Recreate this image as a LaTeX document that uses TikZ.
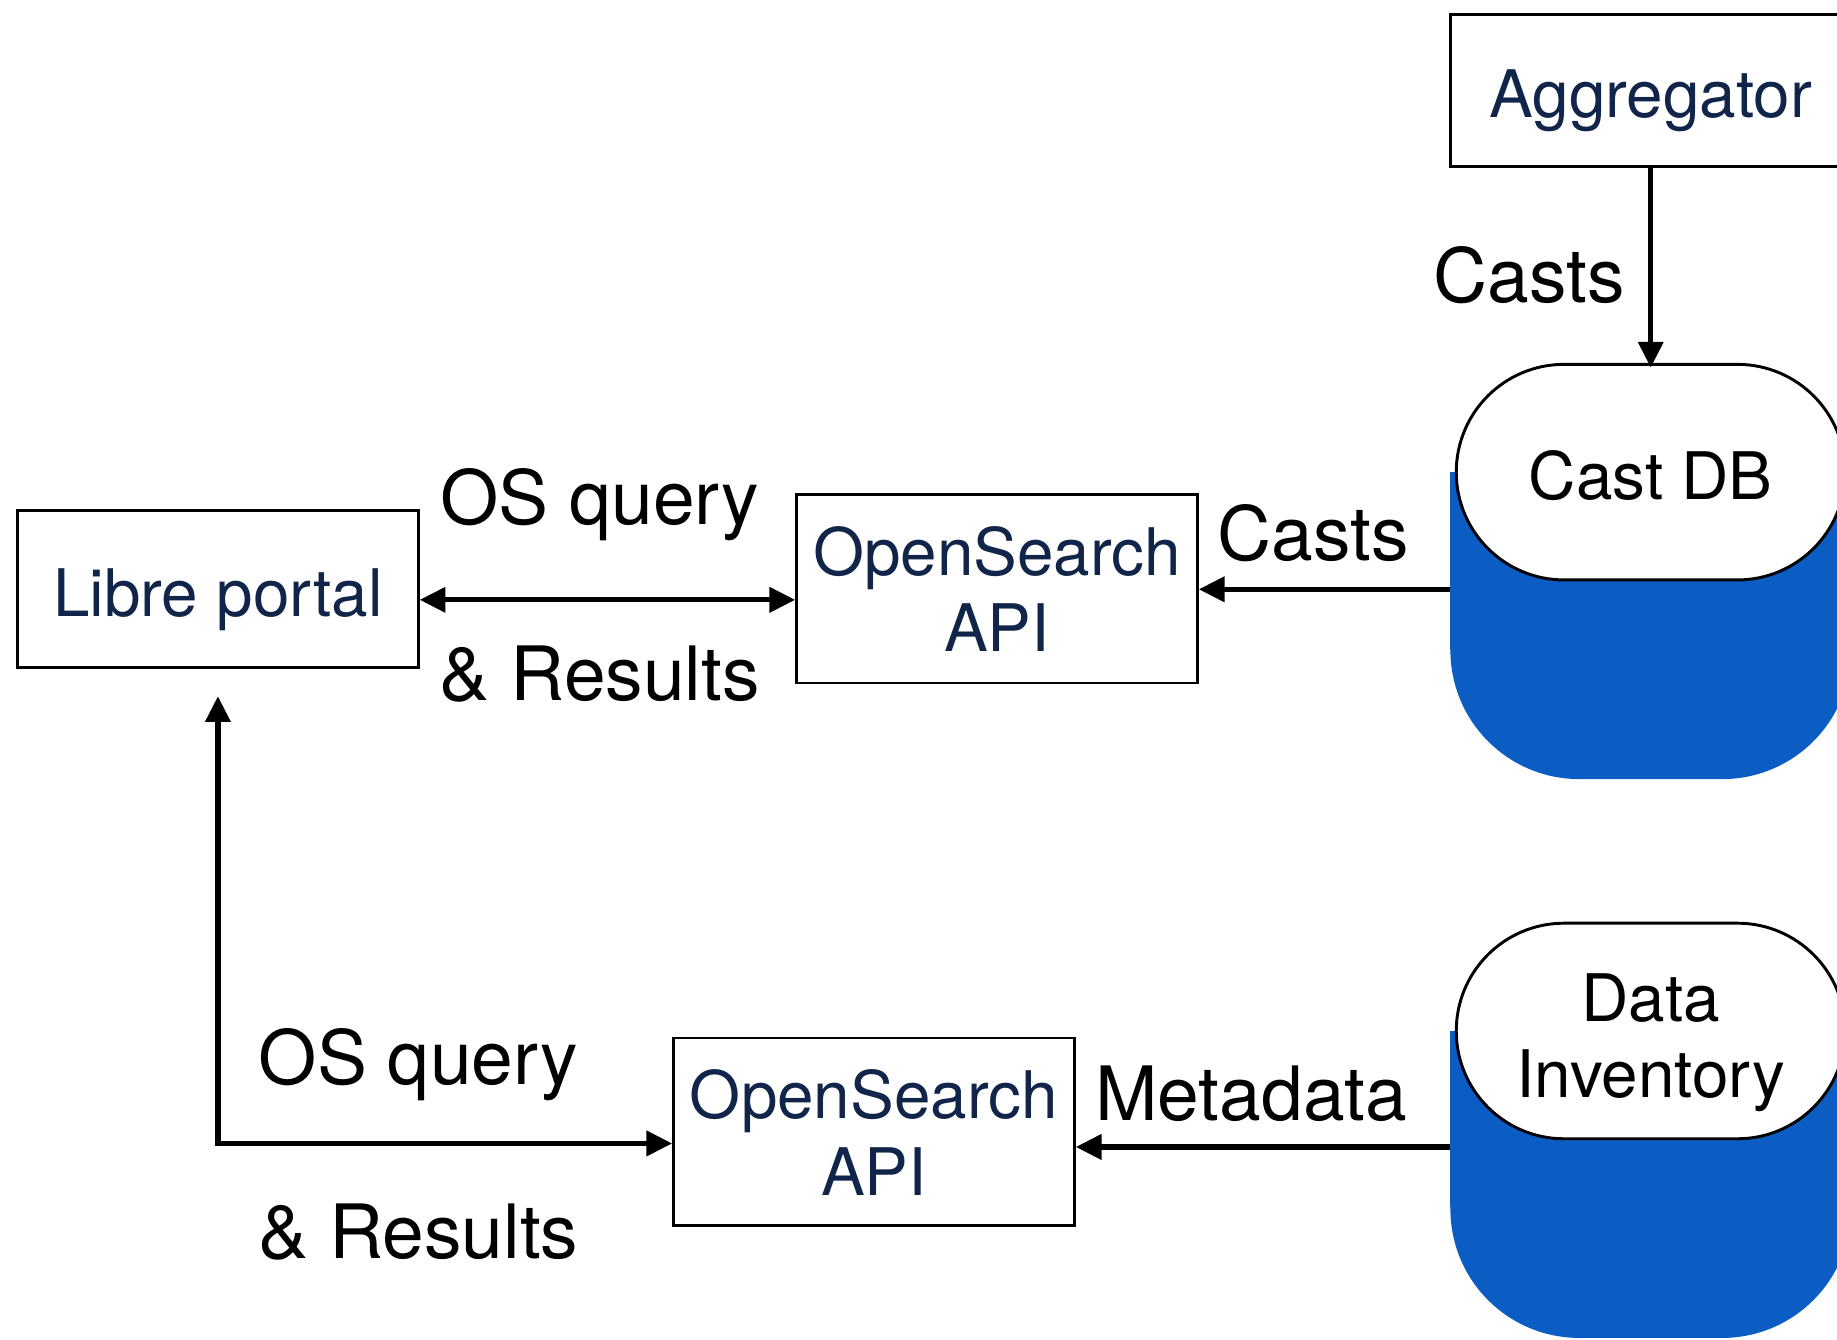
\documentclass[tikz,border=0pt]{standalone}
\usepackage{fontspec}
\setmainfont{TeX Gyre Heros}
\usetikzlibrary{arrows.meta}
\definecolor{navy}{HTML}{102549}
\definecolor{dbblue}{HTML}{0B5CC3}
\begin{document}
\begin{tikzpicture}[x=1pt,y=-1pt,
  oneline/.style={text height=46pt, text depth=0pt},
  twoline/.style={text height=#1, text depth=0pt},
  box/.style={draw, line width=2.5pt, minimum width=342pt, inner sep=0pt, text=navy,
    font=\fontsize{56}{65}\selectfont, align=center},
  dbtop/.style={draw, line width=2.5pt, fill=white, rounded corners=92pt,
    minimum width=332pt, minimum height=184pt, inner sep=0pt,
    font=\fontsize{56}{65}\selectfont, align=center},
  lbl/.style={font=\fontsize{64}{70}\selectfont, anchor=base, inner sep=0pt},
  conn/.style={line width=4.5pt, -{Triangle[length=22pt,width=21pt]}},
  dconn/.style={line width=4.5pt, {Triangle[length=22pt,width=21pt]}-{Triangle[length=22pt,width=21pt]}}]
\useasboundingbox (0,0) rectangle (1568,1143);

% boxes
\node[box, oneline, minimum height=134pt] (libre) at (186,503) {Libre portal};
\node[box, twoline=108pt, minimum height=161pt] (os1) at (851,502.5) {OpenSearch\\API};
\node[box, twoline=108pt, minimum height=160pt] (os2) at (746,966) {OpenSearch\\API};
\node[box, oneline, minimum height=130pt] (agg) at (1409,77) {Aggregator};

% databases
\fill[dbblue] (1238,403) rectangle (1580,555);
\fill[dbblue, rounded corners=110pt] (1238,403) rectangle (1580,665);
\node[dbtop, oneline] (castdb) at (1409,403) {Cast DB};
\fill[dbblue] (1238,880) rectangle (1580,1030);
\fill[dbblue, rounded corners=110pt] (1238,880) rectangle (1580,1142);
\node[dbtop, twoline=114pt] (datainv) at (1409,880) {Data\\Inventory};

\coordinate (castbody) at (1238,503);
\coordinate (invbody) at (1238,979);
\coordinate (ytop) at (0,512);
\coordinate (ylow) at (0,976);

% connectors
\draw[conn] (agg.south) -- ([yshift=-4pt]castdb.north);
\draw[conn] (castbody) -- (os1.east |- castbody);
\draw[conn] (invbody) -- (os2.east |- invbody);
\draw[dconn] (libre.east |- ytop) -- (os1.west |- ytop);
\draw[dconn] ([yshift=-23pt]libre.south) |- (os2.west |- ylow);

% labels
\node[lbl] (casts1) at (1305,258) {Casts};
\node[lbl] (casts2) at (1121,478) {Casts};
\node[lbl] (q1) at (512,448) {OS query};
\node[lbl] (r1) at (512,598) {\& Results};
\node[lbl] (q2) at (357,926) {OS query};
\node[lbl] (r2) at (357,1074) {\& Results};
\node[lbl] (meta) at (1068,956) {Metadata};
\end{tikzpicture}
\end{document}
